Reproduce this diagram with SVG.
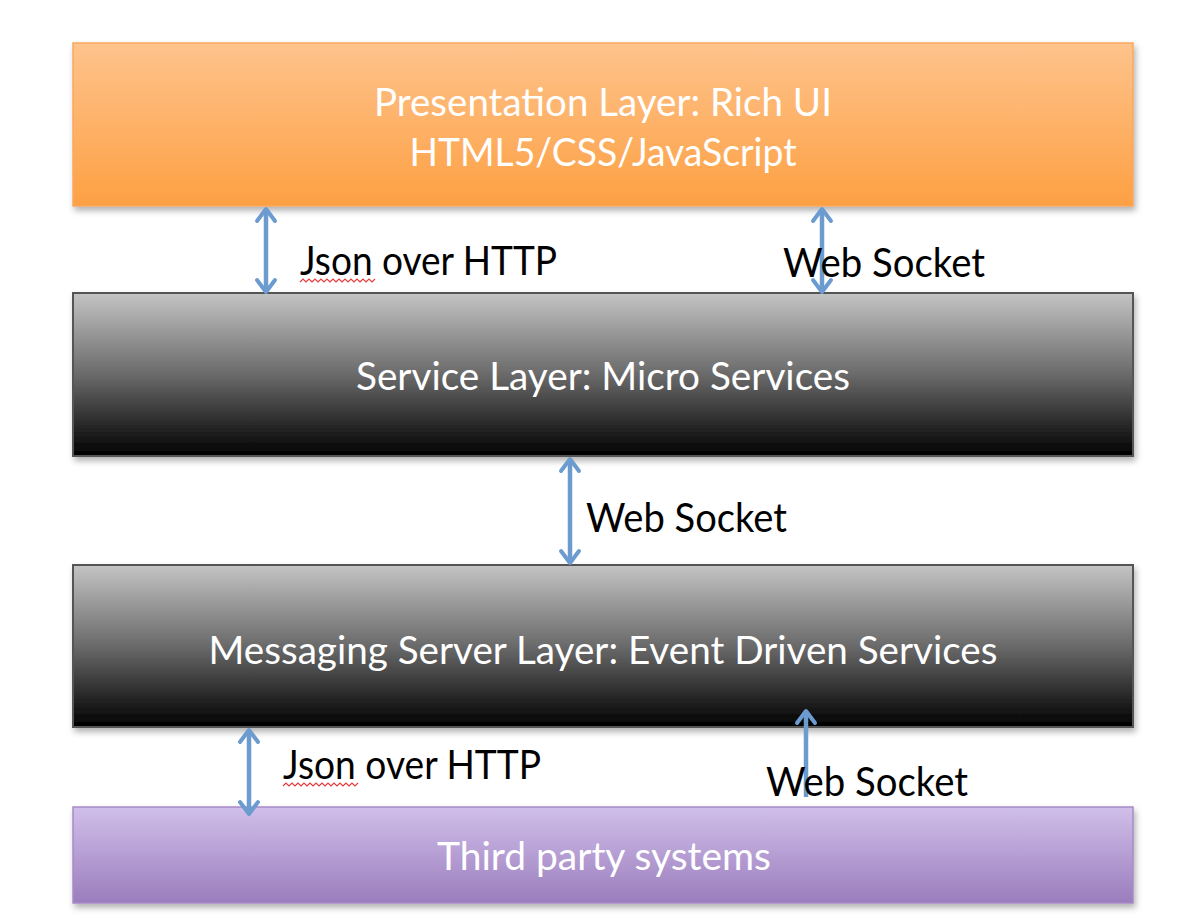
<svg xmlns="http://www.w3.org/2000/svg" width="1204" height="924" viewBox="0 0 1204 924">
<defs>
<linearGradient id="gOrange" x1="0" y1="0" x2="0" y2="1"><stop offset="0" stop-color="#FEC38C"/><stop offset="1" stop-color="#FDA043"/></linearGradient>
<linearGradient id="gGray" x1="0" y1="0" x2="0" y2="1"><stop offset="0" stop-color="#C4C4C4"/><stop offset="0.5" stop-color="#6A6A6A"/><stop offset="1" stop-color="#000000"/></linearGradient>
<linearGradient id="gPurple" x1="0" y1="0" x2="0" y2="1"><stop offset="0" stop-color="#D1BFEA"/><stop offset="1" stop-color="#9A7DBD"/></linearGradient>
<filter id="sh" x="-5%" y="-20%" width="110%" height="140%"><feDropShadow dx="2" dy="4" stdDeviation="3" flood-color="#000" flood-opacity="0.3"/></filter>
<marker id="ah" markerWidth="20" markerHeight="24" refX="15" refY="12" orient="auto-start-reverse" markerUnits="userSpaceOnUse" viewBox="0 0 20 24"><path d="M3,3 L15,12 L3,21" fill="none" stroke="#6C9BCF" stroke-width="4" stroke-linecap="round" stroke-linejoin="round"/></marker>
</defs>
<style>
.box{filter:url(#sh)}
.t{font-family:Lato,"Open Sans","Liberation Sans",sans-serif;font-size:38px;fill:#fff;text-anchor:middle}
.l{font-family:Lato,"Open Sans","Liberation Sans",sans-serif;font-size:40px;fill:#000}
.c{fill:none;stroke:#6C9BCF;stroke-width:4.5}
</style>
<rect width="1204" height="924" fill="#fff"/>
<g id="presentation">
<rect class="box" x="73" y="43" width="1060" height="163" fill="url(#gOrange)" stroke="#F7A860" stroke-width="1.5"/>
<text class="t" x="603" y="116" textLength="458" lengthAdjust="spacingAndGlyphs">Presentation Layer: Rich UI</text>
<text class="t" x="603" y="166" textLength="387" lengthAdjust="spacingAndGlyphs">HTML5/CSS/JavaScript</text>
</g>
<g id="service">
<rect class="box" x="73" y="293" width="1060" height="163" fill="url(#gGray)" stroke="#555" stroke-width="2"/>
<text class="t" x="603" y="390" textLength="494" lengthAdjust="spacingAndGlyphs">Service Layer: Micro Services</text>
</g>
<g id="messaging">
<rect class="box" x="73" y="565" width="1060" height="162" fill="url(#gGray)" stroke="#555" stroke-width="2"/>
<text class="t" x="603" y="664" textLength="789" lengthAdjust="spacingAndGlyphs">Messaging Server Layer: Event Driven Services</text>
</g>
<g id="third-party">
<rect class="box" x="73" y="807" width="1060" height="96" fill="url(#gPurple)" stroke="#A68BC8" stroke-width="1.5"/>
<text class="t" x="604" y="870" textLength="334" lengthAdjust="spacingAndGlyphs">Third party systems</text>
</g>
<g id="connectors">
<line class="c" x1="266" y1="209" x2="266" y2="292" marker-start="url(#ah)" marker-end="url(#ah)"/>
<line class="c" x1="822" y1="209" x2="822" y2="292" marker-start="url(#ah)" marker-end="url(#ah)"/>
<line class="c" x1="570" y1="459" x2="570" y2="563" marker-start="url(#ah)" marker-end="url(#ah)"/>
<line class="c" x1="249" y1="730" x2="249" y2="814" marker-start="url(#ah)" marker-end="url(#ah)"/>
<line class="c" x1="806" y1="711" x2="806" y2="797" marker-start="url(#ah)"/>
</g>
<g id="labels">
<text class="l" x="300" y="275" textLength="257" lengthAdjust="spacingAndGlyphs">Json over HTTP</text>
<polyline points="300,282 303,279 306,282 309,279 312,282 315,279 318,282 321,279 324,282 327,279 330,282 333,279 336,282 339,279 342,282 345,279 348,282 351,279 354,282 357,279 360,282 363,279 366,282 369,279 372,282 375,279" fill="none" stroke="#E53C3C" stroke-width="1.2"/>
<text class="l" x="783" y="277" textLength="202" lengthAdjust="spacingAndGlyphs">Web Socket</text>
<text class="l" x="586" y="532" textLength="201" lengthAdjust="spacingAndGlyphs">Web Socket</text>
<text class="l" x="283" y="779" textLength="258" lengthAdjust="spacingAndGlyphs">Json over HTTP</text>
<polyline points="283,786 286,783 289,786 292,783 295,786 298,783 301,786 304,783 307,786 310,783 313,786 316,783 319,786 322,783 325,786 328,783 331,786 334,783 337,786 340,783 343,786 346,783 349,786 352,783 355,786 358,783" fill="none" stroke="#E53C3C" stroke-width="1.2"/>
<text class="l" x="766" y="796" textLength="202" lengthAdjust="spacingAndGlyphs">Web Socket</text>
</g>
</svg>
